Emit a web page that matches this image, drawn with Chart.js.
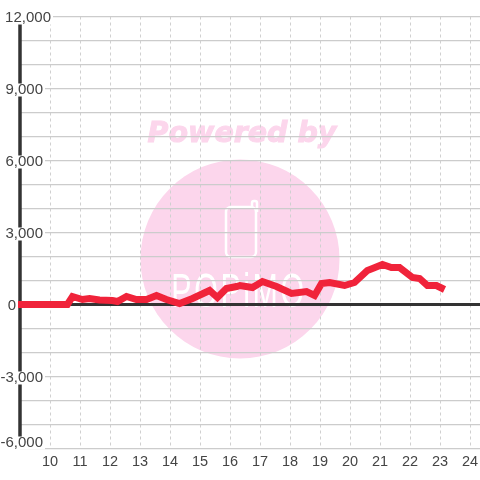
<!DOCTYPE html>
<html lang="en">
<head>
<meta charset="UTF-8" />
<title>Hourly chart</title>
<script src="https://cdn.jsdelivr.net/npm/chart.js"></script>
<style>
  body { margin:0; background:#fff; }
  canvas { display:block; }
</style>
</head>
<body>
<canvas id="chart" width="480" height="480"></canvas>
<script>
const hours = [8.9,10.58,10.75,11.08,11.32,11.65,12.08,12.25,12.55,12.88,13.22,13.55,13.88,14.32,14.75,15.32,15.58,15.88,16.22,16.33,16.75,17.08,17.55,18.05,18.55,18.82,19.05,19.32,19.82,20.15,20.58,20.75,21.08,21.38,21.65,22.08,22.32,22.58,22.88,23.15];
const values = [0,0,333,208,250,188,167,125,333,208,208,375,208,42,250,583,292,667,750,792,708,958,750,458,542,375,875,917,792,917,1417,1500,1667,1542,1542,1125,1083,792,792,625];
const xTicks = [10,11,12,13,14,15,16,17,18,19,20,21,22,23,24];
const yLabels = [12000,9000,6000,3000,0,-3000,-6000];
const yLabelRight = [51,43,43,43,16,43,43];
const yLabelShift = [0,0,0,0,0,0,-7];

const fontFamily = '"Liberation Sans", Arial, sans-serif';

const watermark = {
  id:'watermark',
  beforeDraw(chart){
    const c = chart.ctx;
    c.save();
    c.fillStyle = '#fcd6ec';
    c.strokeStyle = '#fcd6ec';
    c.beginPath();
    c.arc(240,259,99.5,0,Math.PI*2);
    c.fill();
    c.font = 'italic bold 28.5px "DejaVu Sans"';
    c.textAlign = 'center';
    c.textBaseline = 'middle';
    c.lineWidth = 1;
    c.fillText('Powered by',242,135);
    c.strokeText('Powered by',242,135);
    // phone icon
    c.strokeStyle = '#fff';
    c.lineWidth = 2.5;
    c.beginPath();
    c.roundRect(226,207,30,50,5);
    c.moveTo(252,207);
    c.lineTo(252,203);
    c.arcTo(252,201,254,201,2);
    c.arcTo(257,201,257,204,2);
    c.lineTo(257,212);
    c.stroke();
    // logo word, squeezed sideways
    c.fillStyle = '#fff';
    c.font = '47.5px "Liberation Sans"';
    c.textBaseline = 'alphabetic';
    c.letterSpacing = '4px';
    c.translate(239,307);
    c.scale(0.64,1);
    c.fillText('POPiMO',0,0);
    c.restore();
  }
};

const yAxisBar = {
  id:'yAxisBar',
  beforeDatasetsDraw(chart){
    const c = chart.ctx, y = chart.scales.y, x = chart.scales.x;
    c.save();
    c.strokeStyle = '#333';
    c.lineWidth = 3.5;
    c.beginPath();
    c.moveTo(x.getPixelForValue(9),y.getPixelForValue(12000));
    c.lineTo(x.getPixelForValue(9),y.getPixelForValue(-6000));
    c.stroke();
    c.restore();
  },
  afterDraw(chart){
    const c = chart.ctx, y = chart.scales.y;
    c.save();
    c.font = '15px ' + fontFamily;
    c.textAlign = 'right';
    c.textBaseline = 'middle';
    yLabels.forEach((v,i)=>{
      const text = v.toLocaleString('en-US');
      const w = c.measureText(text).width;
      const py = y.getPixelForValue(v) + yLabelShift[i];
      c.fillStyle = '#fff';
      c.fillRect(yLabelRight[i]-w-1,py-5,w+3,13);
      c.fillStyle = '#444';
      c.fillText(text,yLabelRight[i],py+1);
    });
    c.restore();
  }
};

new Chart(document.getElementById('chart'),{
  type:'line',
  data:{
    labels:hours,
    datasets:[{
      data:hours.map((h,i)=>({x:h,y:values[i]})),
      borderColor:'#f0233a',
      borderWidth:7,
      pointRadius:0,
      tension:0,
      clip:false
    }]
  },
  options:{
    responsive:false,
    animation:false,
    layout:{padding:{top:16.5}},
    plugins:{legend:{display:false},tooltip:{enabled:false}},
    scales:{
      x:{
        type:'linear',
        min:9,
        max:24.333,
        afterBuildTicks(s){ s.ticks = xTicks.map(v=>({value:v})); },
        afterFit(s){ s.height = 31.5; s.paddingLeft = 0; s.paddingRight = 0; },
        grid:{color:'#d0d0d0',lineWidth:1,drawTicks:false},
        border:{display:false,dash:[3,3]},
        ticks:{color:'#444',font:{size:14.5,family:fontFamily},padding:5,maxRotation:0,autoSkip:false,
          callback:v=>String(v)}
      },
      y:{
        min:-6000,
        max:12000,
        afterFit(s){ s.width = 20; },
        grid:{
          color:c=>c.tick.value===0?'#333':'#ccc',
          lineWidth:c=>c.tick.value===0?3:1.2,
          drawTicks:false
        },
        border:{display:false},
        ticks:{stepSize:1000,display:false}
      }
    }
  },
  plugins:[watermark,yAxisBar]
});
</script>
</body>
</html>
